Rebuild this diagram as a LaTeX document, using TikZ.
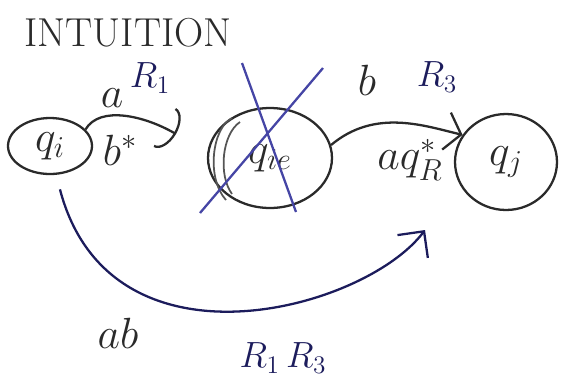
\documentclass[tikz,border=0pt]{standalone}
\usepackage{amsmath}
\usetikzlibrary{shapes.geometric, arrows.meta}
\definecolor{pen}{HTML}{2A2A2A}
\definecolor{ink}{HTML}{1C1C5C}
\definecolor{cross}{HTML}{4545A5}

\begin{document}
\begin{tikzpicture}[x=0.02cm, y=-0.02cm, line width=1.3pt,
    state/.style={draw=pen, ellipse, inner sep=0pt},
    lbl/.style={text=pen, font=\fontsize{24}{26}\selectfont},
    blu/.style={text=ink, font=\fontsize{21}{23}\selectfont},
    hook/.style={-{Arc Barb[length=2.6mm, width=9mm]}},
    barb/.style={-{Straight Barb[length=3mm, width=7.6mm]}}]
  \useasboundingbox (0,0) rectangle (564,383);
  \node[text=pen, font=\fontsize{23}{25}\selectfont] (title) at (128,33) {INTUITION};
  \node[state, minimum width=1.68cm, minimum height=1.12cm, lbl] (qi) at (50,146) {$q_i$};
  \node[state, minimum width=2.48cm, minimum height=2cm, lbl] (qie) at (270,158) {$q_{ie}$};
  \node[state, minimum width=2.04cm, minimum height=1.92cm, lbl] (qj) at (506,162) {$q_j$};
  \coordinate (tipie) at (176,134);
  \coordinate (tipj) at (425,230);
  % loop drawn inside the crossed state
  \draw[pen!80, line width=1pt] (232,118) .. controls (212,128) and (206,178) .. (226,200);
  \draw[pen!80, line width=1pt] (240,122) .. controls (222,134) and (218,175) .. (232,194);
  % crossed out
  \draw[cross] (242,63) -- (296,212);
  \draw[cross] (323,68) -- (200,213);
  \draw[pen, hook] (qi.25) .. controls (100,105) and (145,116) .. (tipie);
  \draw[pen, barb] (qie.12) .. controls (375,108) and (425,126) .. (qj.148);
  \draw[ink, shorten <=0.3cm, -{Straight Barb[length=3.8mm, width=7.6mm]}]
    (qi.-78) .. controls (110,380) and (365,310) .. (tipj);
  \node[lbl] (la) at (112,98) {$a$};
  \node[blu] (lr1) at (150,78) {$R_1$};
  \node[lbl] (lbs) at (120,150) {$b^*$};
  \node[lbl] (lb) at (367,80) {$b$};
  \node[blu] (lr3) at (437,77) {$R_3$};
  \node[lbl] (laq) at (410,160) {$aq_R^{*}$};
  \node[lbl] (lab) at (118,333) {$ab$};
  \node[blu] (lr13) at (283,358) {$R_1\,R_3$};
\end{tikzpicture}
\end{document}
